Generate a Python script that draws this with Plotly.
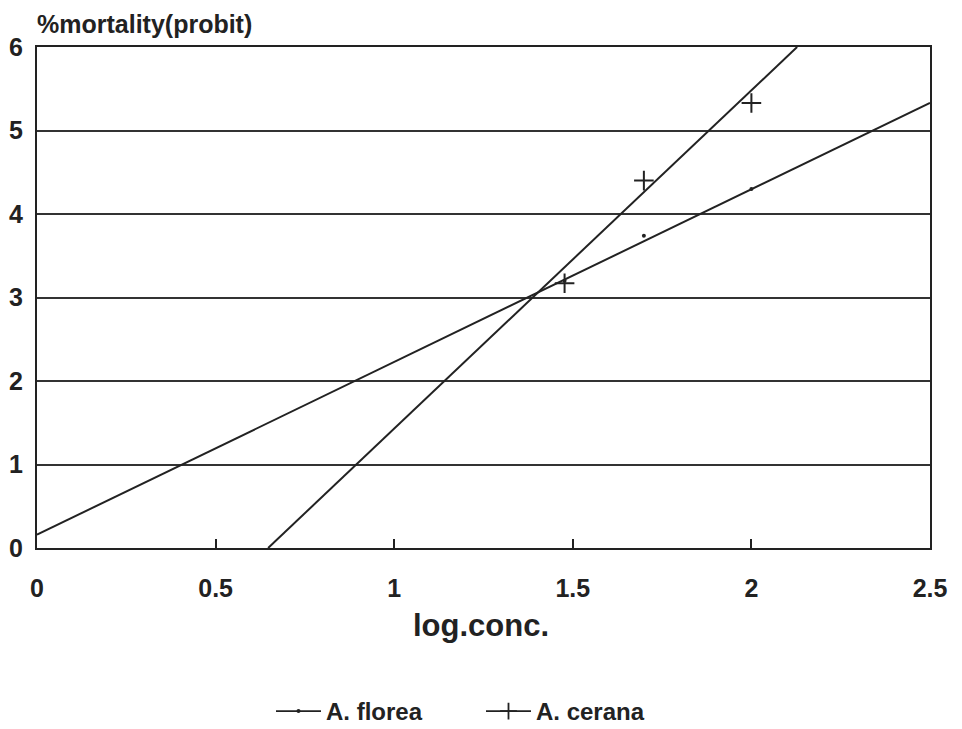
import plotly.graph_objects as go

# Observed points (log concentration, probit mortality)
florea_x = [1.477, 1.699, 2.0]
florea_y = [3.2, 3.74, 4.30]
cerana_x = [1.477, 1.699, 2.0]
cerana_y = [3.17, 4.40, 5.33]

# Fitted regression line end points
florea_line_x = [0.0, 2.5]
florea_line_y = [0.16, 5.33]
cerana_line_x = [0.647, 2.128]
cerana_line_y = [0.0, 6.0]

x_ticks = [0, 0.5, 1, 1.5, 2, 2.5]
x_tick_labels = ["0", "0.5", "1", "1.5", "2", "2.5"]
y_ticks = [0, 1, 2, 3, 4, 5, 6]

INK = "#222222"
FONT = "Liberation Sans, Arial, sans-serif"

fig = go.Figure()

fig.add_trace(go.Scatter(x=florea_line_x, y=florea_line_y, mode="lines",
                         line=dict(color=INK, width=2), showlegend=False, hoverinfo="skip"))
fig.add_trace(go.Scatter(x=cerana_line_x, y=cerana_line_y, mode="lines",
                         line=dict(color=INK, width=2), showlegend=False, hoverinfo="skip"))
fig.add_trace(go.Scatter(x=florea_x, y=florea_y, mode="markers",
                         marker=dict(symbol="circle", size=4, color=INK), showlegend=False))
fig.add_trace(go.Scatter(x=cerana_x, y=cerana_y, mode="markers",
                         marker=dict(symbol="cross-thin", size=14, line=dict(color=INK, width=2)),
                         showlegend=False))

# legend entries
fig.add_trace(go.Scatter(x=[None], y=[None], mode="lines+markers", name="A. florea",
                         line=dict(color=INK, width=1.8),
                         marker=dict(symbol="circle", size=4, color=INK)))
fig.add_trace(go.Scatter(x=[None], y=[None], mode="lines+markers", name="A. cerana",
                         line=dict(color=INK, width=1.8),
                         marker=dict(symbol="cross-thin", size=12, line=dict(color=INK, width=1.8))))

fig.update_layout(
    width=962, height=729,
    margin=dict(l=37, r=32, t=47, b=181, autoexpand=False),
    paper_bgcolor="white", plot_bgcolor="white",
    font=dict(family=FONT, color=INK, size=25),
    showlegend=True,
    legend=dict(orientation="h", x=0.5, xanchor="center", xref="container",
                y=0.024, yanchor="middle", yref="container",
                font=dict(size=24, family=FONT, color=INK, weight="bold"), itemwidth=45,
                entrywidth=150, bgcolor="rgba(0,0,0,0)"),
    xaxis=dict(range=[0, 2.5], tickvals=x_ticks, ticktext=x_tick_labels,
               showgrid=False, zeroline=False, automargin=False,
               showline=True, linecolor=INK, linewidth=2, mirror=True,
               ticks="inside", ticklen=9, tickwidth=1.6, tickcolor=INK,
               ticklabelstandoff=17,
               tickfont=dict(size=25, family=FONT, color=INK, weight="bold")),
    yaxis=dict(range=[0, 6], tickvals=y_ticks, automargin=False,
               showgrid=True, gridcolor="#333333", gridwidth=1.8, zeroline=False,
               showline=True, linecolor=INK, linewidth=2, mirror=True,
               ticks="", ticklabelstandoff=7,
               tickfont=dict(size=25, family=FONT, color=INK, weight="bold")),
    annotations=[
        dict(text="%mortality(probit)", xref="paper", yref="paper", x=0, y=1,
             xanchor="left", yanchor="middle", yshift=23, xshift=-2, showarrow=False,
             font=dict(size=25, family=FONT, color=INK, weight="bold")),
        dict(text="log.conc.", xref="paper", yref="paper", x=0.5, y=0, xanchor="center",
             yanchor="middle", yshift=-77, xshift=-3, showarrow=False,
             font=dict(size=31, family=FONT, color=INK, weight="bold")),
    ],
)

fig.write_html("out.html")
